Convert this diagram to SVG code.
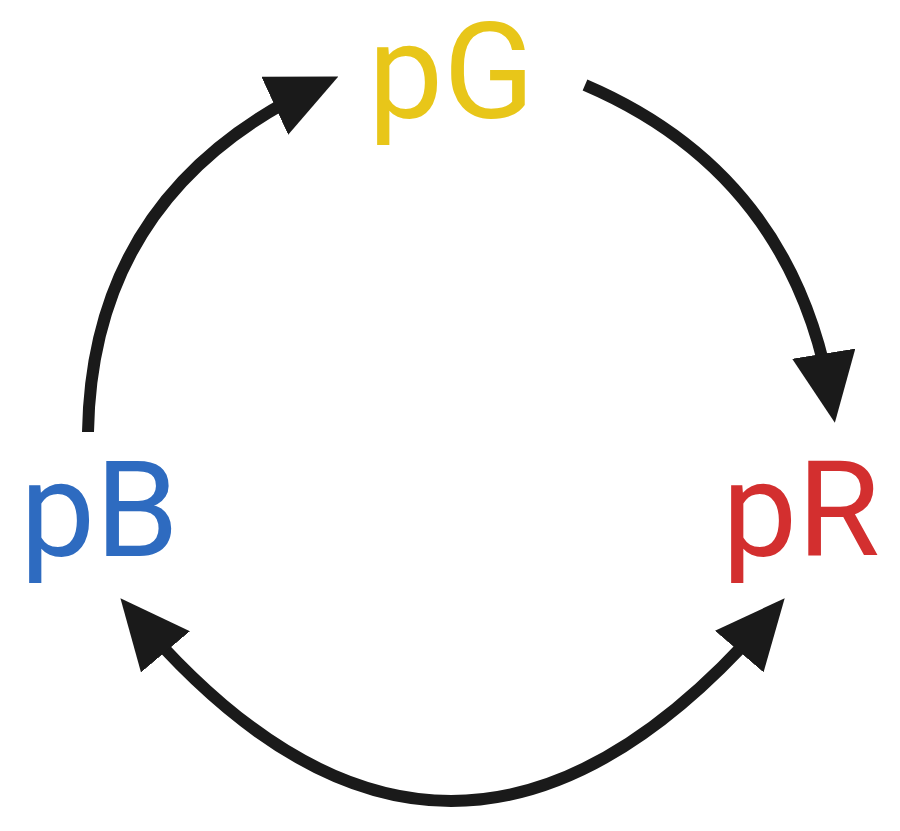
<svg xmlns="http://www.w3.org/2000/svg" width="900" height="831" viewBox="0 0 900 831">
<defs>
<style>
.lbl{font-family:Roboto,"Liberation Sans",sans-serif;font-size:134px}
.c{fill:none;stroke:#1a1a1a;stroke-width:12}
</style>
<marker id="ah" viewBox="0 0 70 64" refX="52" refY="32" markerWidth="70" markerHeight="64" markerUnits="userSpaceOnUse" orient="auto-start-reverse">
<path d="M0,0 L70,32 L0,64 Z" fill="#1a1a1a"/>
</marker>
</defs>
<rect width="900" height="831" fill="#fff"/>
<g id="connectors">
<path class="c" d="M88,432 Q92,190 322,84" marker-end="url(#ah)"/>
<path class="c" d="M585,85 Q795,175 832,405" marker-end="url(#ah)"/>
<path class="c" d="M132,612 Q450,990 773,612" marker-start="url(#ah)" marker-end="url(#ah)"/>
</g>
<g id="pG"><text class="lbl" x="368" y="118" fill="#E8C619">pG</text></g>
<g id="pB"><text class="lbl" x="20" y="556" fill="#2E6BC0">pB</text></g>
<g id="pR"><text class="lbl" x="722" y="556" fill="#D32F2F">pR</text></g>
</svg>
